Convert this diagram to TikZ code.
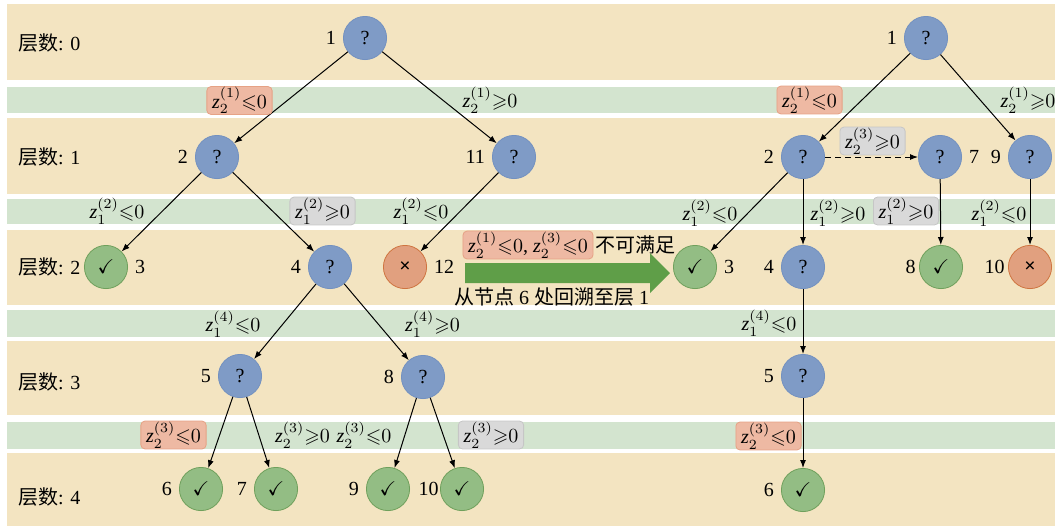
\documentclass[tikz,border=0pt]{standalone}
\usepackage{amssymb}
\usepackage{fontspec}
\setmainfont{Liberation Serif}
\newfontfamily\cjk{Noto Sans CJK SC}
\usetikzlibrary{arrows.meta,positioning}

\definecolor{bandtan}{HTML}{F3E4C1}
\definecolor{bandgreen}{HTML}{D3E4CF}
\definecolor{qfill}{HTML}{7F9BC6}
\definecolor{qline}{HTML}{7391C0}
\definecolor{okfill}{HTML}{93BD84}
\definecolor{okline}{HTML}{6FA05C}
\definecolor{badfill}{HTML}{E1A07F}
\definecolor{badline}{HTML}{CF7440}
\definecolor{redtagfill}{HTML}{EEB9A3}
\definecolor{redtagline}{HTML}{E6A285}
\definecolor{graytagfill}{HTML}{D9D9D9}
\definecolor{graytagline}{HTML}{C6C6C6}
\definecolor{backfill}{HTML}{5F9E48}

\newcommand{\zle}[2]{$\textit{z}_{#1}^{(#2)}{\leqslant}0$}
\newcommand{\zge}[2]{$\textit{z}_{#1}^{(#2)}{\geqslant}0$}

\begin{document}
\begin{tikzpicture}[x=0.5pt, y=-0.5pt, font=\fontsize{10}{12}\selectfont,
  qnode/.style={circle, minimum size=21.6pt, inner sep=0pt, fill=qfill, draw=qline},
  oknode/.style={circle, minimum size=21.6pt, inner sep=0pt, fill=okfill, draw=okline},
  badnode/.style={circle, minimum size=21.6pt, inner sep=0pt, fill=badfill, draw=badline},
  tagred/.style={fill=redtagfill, draw=redtagline, rounded corners=2pt, inner xsep=2.6pt, inner ysep=0.4pt},
  taggray/.style={fill=graytagfill, draw=graytagline, rounded corners=2pt, inner xsep=2.6pt, inner ysep=0.4pt},
  branch/.style={-{Latex[length=4pt,width=3pt]}, line width=0.5pt},
]
\useasboundingbox (0,0) rectangle (1055,526);
% bands
\foreach \ya/\yb in {4/80,118/194,230/305,341/415,453/526}
  \fill[bandtan] (7,\ya) rectangle (1055,\yb);
\foreach \ya/\yb in {87/113,199/224,310/337,422/449}
  \fill[bandgreen] (7,\ya) rectangle (1055,\yb);
\foreach \l/\y in {0/43,1/157,2/267,3/382,4/497}
  \node[anchor=west] (level\l) at (11,\y) {{\cjk 层数}: \l};

% left tree
\node[qnode, label=left:1] (a1) at (365,38) {?};
\node[qnode, label=left:2] (a2) at (217,157) {?};
\node[qnode, label=left:11] (a11) at (514,157) {?};
\node[oknode, label=right:3] (a3) at (106,267) {$\checkmark$};
\node[qnode, label=left:4] (a4) at (330,267) {?};
\node[badnode, label=right:12] (a12) at (405,267) {\textbf{×}};
\node[qnode, label=left:5] (a5) at (240,376) {?};
\node[qnode, label=left:8] (a8) at (423,377) {?};
\node[oknode, label=left:6] (a6) at (201,489) {$\checkmark$};
\node[oknode, label=left:7] (a7) at (276,489) {$\checkmark$};
\node[oknode, label=left:9] (a9) at (388,489) {$\checkmark$};
\node[oknode, label={[inner sep=0.5pt]left:10}] (a10) at (462,489) {$\checkmark$};
\foreach \p/\c in {a1/a2,a1/a11,a2/a3,a2/a4,a11/a12,a4/a5,a4/a8,a5/a6,a5/a7,a8/a9,a8/a10}
  \draw[branch] (\p) -- (\c);

\node[tagred] (ta2) at (239.5,100.5) {\zle{2}{1}};
\node (ta11) at (490,100) {\zge{2}{1}};
\node (ta3) at (117,211) {\zle{1}{2}};
\node[taggray] (ta4) at (322.5,211) {\zge{1}{2}};
\node (ta12) at (421,211) {\zle{1}{2}};
\node (ta5) at (233,324) {\zle{1}{4}};
\node (ta8) at (432.5,324) {\zge{1}{4}};
\node[tagred] (ta6) at (173.5,435) {\zle{2}{3}};
\node (ta7) at (302.5,435) {\zge{2}{3}};
\node (ta9) at (364,435) {\zle{2}{3}};
\node[taggray] (ta10) at (491,435) {\zge{2}{3}};

% backtracking
\node[tagred] (clash) at (528,245) {\zle{2}{1}, \zle{2}{3}};
\node[right=0pt of clash, inner sep=1pt] (clashtxt) {\cjk 不可满足};
\fill[backfill] (465,263) -- (650,263) -- (650,253) -- (670,273) -- (650,293)
  -- (650,283) -- (465,283) -- cycle;
\node (backtxt) at (551.5,297) {{\cjk 从节点} 6 {\cjk 处回溯至层} 1};

% right tree
\node[qnode, label=left:1] (b1) at (926,38) {?};
\node[qnode, label=left:2] (b2) at (803,157) {?};
\node[qnode, label=right:7] (b7) at (940,157) {?};
\node[qnode, label=left:9] (b9) at (1030,157) {?};
\node[oknode, label=right:3] (b3) at (695,267) {$\checkmark$};
\node[qnode, label=left:4] (b4) at (803,267) {?};
\node[oknode, label={[inner sep=1.5pt]left:8}] (b8) at (941,267) {$\checkmark$};
\node[badnode, label={[inner sep=1.5pt]left:10}] (b10) at (1030,267) {\textbf{×}};
\node[qnode, label=left:5] (b5) at (803,376) {?};
\node[oknode, label=left:6] (b6) at (803,490) {$\checkmark$};
\foreach \p/\c in {b1/b2,b1/b9,b2/b3,b2/b4,b4/b5,b5/b6,b7/b8,b9/b10}
  \draw[branch] (\p) -- (\c);
\draw[branch, dash pattern=on 3pt off 2pt] (b2) -- (b7);

\node[tagred] (tb2) at (809.5,100) {\zle{2}{1}};
\node[inner xsep=1pt] (tb9) at (1028,100) {\zge{2}{1}};
\node[taggray] (tb7) at (872.5,141) {\zge{2}{3}};
\node (tb3) at (710,213) {\zle{1}{2}};
\node (tb4) at (838,213) {\zge{1}{2}};
\node[taggray] (tb8) at (906,211) {\zge{1}{2}};
\node (tb10) at (999,213) {\zle{1}{2}};
\node (tb5) at (769,323) {\zle{1}{4}};
\node[tagred] (tb6) at (768.5,436) {\zle{2}{3}};
\end{tikzpicture}
\end{document}
